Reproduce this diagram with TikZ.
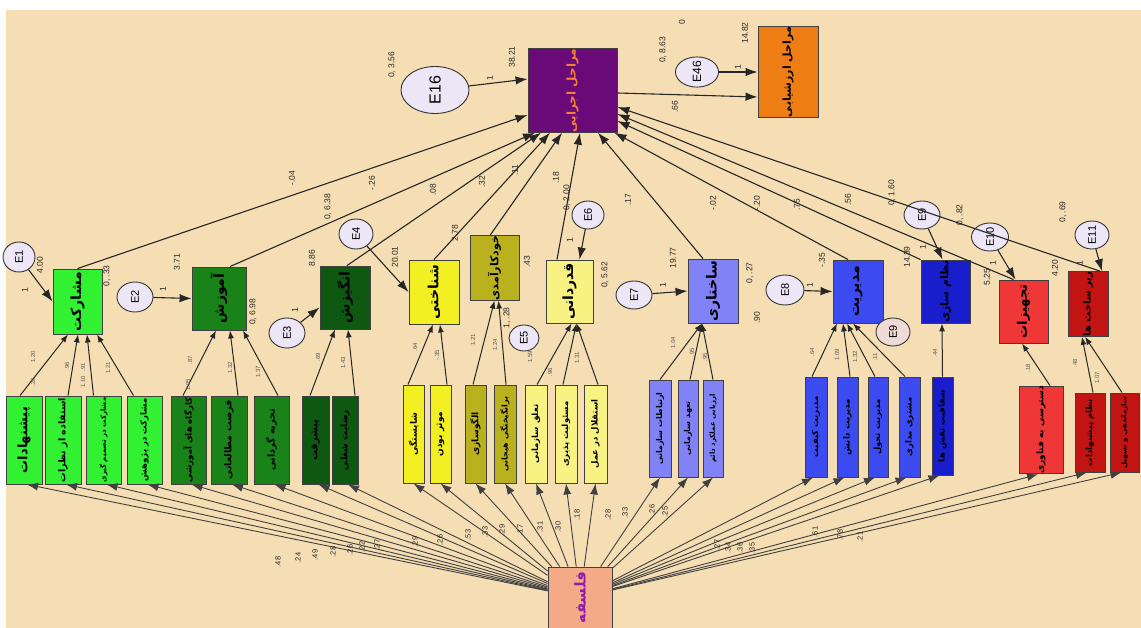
\documentclass[tikz,border=0pt]{standalone}
\usepackage{fontspec}
\usepackage{graphicx}
\setmainfont{Liberation Sans}
\newfontfamily\fa[Script=Arabic]{DejaVu Sans}
\TeXXeTstate=1
\usetikzlibrary{arrows.meta,shapes.geometric}
\definecolor{bgc}{RGB}{245,222,180}
\definecolor{cMain}{RGB}{105,10,120}
\definecolor{cMainT}{RGB}{245,130,50}
\definecolor{cOr}{RGB}{238,125,20}
\definecolor{cEll}{RGB}{236,230,246}
\definecolor{cLG}{RGB}{50,240,50}
\definecolor{cG}{RGB}{25,130,25}
\definecolor{cDG}{RGB}{15,88,18}
\definecolor{cY}{RGB}{242,240,35}
\definecolor{cOl}{RGB}{185,178,30}
\definecolor{cLY}{RGB}{248,242,130}
\definecolor{cPw}{RGB}{128,130,245}
\definecolor{cB}{RGB}{60,75,240}
\definecolor{cDB}{RGB}{25,30,205}
\definecolor{cR}{RGB}{240,55,55}
\definecolor{cDR}{RGB}{195,20,20}
\definecolor{cF}{RGB}{245,170,135}
\definecolor{cFT}{RGB}{140,30,170}
\definecolor{cE9}{RGB}{240,218,215}
\newcommand\FA[2]{\rotatebox{90}{\fa\bfseries\fontsize{#1}{#1}\selectfont #2}}
\newcommand\EN[2]{\rotatebox{90}{\fontsize{#1}{#1}\selectfont #2}}
\begin{document}
\begin{tikzpicture}[x=1pt,y=-1pt,
  bx/.style={draw=black!75, line width=0.9pt, inner sep=0pt, rectangle},
  ell/.style={draw=black!80, line width=0.9pt, ellipse, inner sep=0pt, fill=cEll},
  arr/.style={-{Latex[length=12pt,width=8.5pt]}, line width=1.1pt, draw=black!85},
  sarr/.style={-{Latex[length=8pt,width=6pt]}, line width=1pt, draw=black!85},
  farr/.style={-{Latex[length=11pt,width=8pt]}, line width=0.9pt, draw=black!75},
  lb/.style={rotate=90, inner sep=0pt, font=\fontsize{8.5}{8.5}\selectfont, text=black!85},
  sl/.style={rotate=90, inner sep=0pt, font=\fontsize{6}{6}\selectfont, text=black!65}]
\useasboundingbox (0,0) rectangle (1141,628);
\fill[white] (0,0) rectangle (1141,628);
\fill[bgc] (6,10) rectangle (1141,628);

% top boxes
\node[bx, fill=cMain, minimum width=89, minimum height=71] (M) at (572.5,90.5) {\color{cMainT}\FA{12}{\beginR مراحل اجرایی\endR}};
\node[bx, fill=cOr, minimum width=60, minimum height=70] (O) at (788,72) {\FA{11}{\beginR مراحل ارزشیابی\endR}};
\node[ell, minimum width=68, minimum height=47] (E16) at (435,90) {\EN{16}{E16}};
\node[ell, minimum width=43, minimum height=30] (E46) at (697,72) {\EN{12}{E46}};

% latent boxes
\node[bx, fill=cLG, minimum width=49, minimum height=65] (L1) at (77.5,301.5) {\FA{14}{\beginR مشارکت\endR}};
\node[bx, fill=cG, minimum width=54, minimum height=63] (L2) at (219,298.5) {\FA{14}{\beginR آموزش\endR}};
\node[bx, fill=cDG, minimum width=50, minimum height=63] (L3) at (345,297.5) {\FA{14}{\beginR انگیزش\endR}};
\node[bx, fill=cY, minimum width=50, minimum height=64] (L4) at (434,292) {\FA{14}{\beginR شناختی\endR}};
\node[bx, fill=cOl, minimum width=49, minimum height=64] (L5) at (494.5,268) {\FA{11}{\beginR خودکارآمدی\endR}};
\node[bx, fill=cLY, minimum width=47, minimum height=63] (L6) at (569.5,291.5) {\FA{14}{\beginR قدردانی\endR}};
\node[bx, fill=cPw, minimum width=50, minimum height=64] (L7) at (713,291) {\FA{14}{\beginR ساختاری\endR}};
\node[bx, fill=cB, minimum width=50, minimum height=63] (L8) at (858,291.5) {\FA{14}{\beginR مدیریت\endR}};
\node[bx, fill=cDB, minimum width=49, minimum height=63] (L9) at (945.5,291.5) {\FA{11}{\beginR نظام سازی\endR}};
\node[bx, fill=cR, minimum width=49, minimum height=63] (L10) at (1023.5,311.5) {\FA{13}{\beginR تجهیزات\endR}};
\node[bx, fill=cDR, minimum width=40, minimum height=64] (L11) at (1088,304) {\FA{10}{\beginR زیر ساخت ها\endR}};

% error terms
\node[ell, minimum width=32, minimum height=30] (E1) at (19,257) {\EN{11}{E1}};
\node[ell, minimum width=36, minimum height=30] (E2) at (135,297) {\EN{11}{E2}};
\node[ell, minimum width=36, minimum height=30] (E3) at (287,333) {\EN{11}{E3}};
\node[ell, minimum width=34, minimum height=30] (E4) at (356,234) {\EN{11}{E4}};
\node[ell, minimum width=30, minimum height=26] (E5) at (524,338) {\EN{11}{E5}};
\node[ell, minimum width=32, minimum height=28] (E6) at (588,215) {\EN{11}{E6}};
\node[ell, minimum width=36, minimum height=28] (E7) at (634,295) {\EN{11}{E7}};
\node[ell, minimum width=38, minimum height=30] (E8) at (785,290) {\EN{11}{E8}};
\node[ell, minimum width=36, minimum height=28] (E9) at (922,215) {\EN{11}{E9}};
\node[ell, fill=cE9, minimum width=34, minimum height=28] (E9b) at (893,332) {\EN{11}{E9}};
\node[ell, minimum width=37, minimum height=28] (E10) at (990,237) {\EN{11}{E10}};
\node[ell, minimum width=34, minimum height=28] (E11) at (1092,235) {\EN{11}{E11}};

% indicators
\node[bx, fill=cLG, minimum width=36, minimum height=88] (I1) at (24,440) {\FA{13}{\beginR پیشنهادات\endR}};
\node[bx, fill=cLG, minimum width=36, minimum height=88] (I2) at (63,440) {\FA{9.5}{\beginR استفاده از نظرات\endR}};
\node[bx, fill=cLG, minimum width=35, minimum height=88] (I3) at (103.5,440) {\FA{7}{\beginR مشارکت در تصمیم گیری\endR}};
\node[bx, fill=cLG, minimum width=35, minimum height=88] (I4) at (144.5,440) {\FA{8.5}{\beginR مشارکت در پژوهش\endR}};
\node[bx, fill=cG, minimum width=35, minimum height=88] (I5) at (188.5,440) {\FA{8.5}{\beginR کارگاه های آموزشی\endR}};
\node[bx, fill=cG, minimum width=36, minimum height=88] (I6) at (229,440) {\FA{9.5}{\beginR فرصت مطالعاتی\endR}};
\node[bx, fill=cG, minimum width=35, minimum height=88] (I7) at (271.5,440) {\FA{9.5}{\beginR تجربه گردانی\endR}};
\node[bx, fill=cDG, minimum width=27, minimum height=88] (I8) at (315.5,440) {\FA{10}{\beginR پیشرفت\endR}};
\node[bx, fill=cDG, minimum width=26, minimum height=88] (I9) at (345,440) {\FA{9}{\beginR رضایت شغلی\endR}};
\node[bx, fill=cY, minimum width=21, minimum height=98] (I10) at (413.5,434) {\FA{9}{\beginR شایستگی\endR}};
\node[bx, fill=cY, minimum width=21, minimum height=98] (I11) at (440.5,434) {\FA{9}{\beginR موثر بودن\endR}};
\node[bx, fill=cOl, minimum width=21, minimum height=98] (I12) at (475.5,434) {\FA{9}{\beginR الگوسازی\endR}};
\node[bx, fill=cOl, minimum width=22, minimum height=98] (I13) at (505,434) {\FA{8}{\beginR برانگیختگی هیجانی\endR}};
\node[bx, fill=cLY, minimum width=22, minimum height=98] (I14) at (536,434) {\FA{8.5}{\beginR تعلق سازمانی\endR}};
\node[bx, fill=cLY, minimum width=22, minimum height=98] (I15) at (566,434) {\FA{8.5}{\beginR مسئولیت پذیری\endR}};
\node[bx, fill=cLY, minimum width=23, minimum height=98] (I16) at (595.5,434) {\FA{8.5}{\beginR استقلال در عمل\endR}};
\node[bx, fill=cPw, minimum width=22, minimum height=97] (I17) at (660,428.5) {\FA{8}{\beginR ارتباطات سازمانی\endR}};
\node[bx, fill=cPw, minimum width=20, minimum height=97] (I18) at (688,428.5) {\FA{8}{\beginR تعهد سازمانی\endR}};
\node[bx, fill=cPw, minimum width=20, minimum height=97] (I19) at (713,428.5) {\FA{7}{\beginR ارزیابی عملکرد دائم\endR}};
\node[bx, fill=cB, minimum width=22, minimum height=100] (I20) at (816,427) {\FA{8.5}{\beginR مدیریت کیفیت\endR}};
\node[bx, fill=cB, minimum width=21, minimum height=100] (I21) at (847.5,427) {\FA{8.5}{\beginR مدیریت دانش\endR}};
\node[bx, fill=cB, minimum width=20, minimum height=100] (I22) at (878,427) {\FA{8.5}{\beginR مدیریت تحول\endR}};
\node[bx, fill=cB, minimum width=21, minimum height=100] (I23) at (909.5,427) {\FA{8.5}{\beginR مشتری مداری\endR}};
\node[bx, fill=cDB, minimum width=21, minimum height=98] (I24) at (942.5,426) {\FA{8.5}{\beginR شفافیت نقش ها\endR}};
\node[bx, fill=cR, minimum width=44, minimum height=74] (I25) at (1041,430) {\FA{9}{\beginR دسترسی به فناوری\endR}};
\node[bx, fill=cDR, minimum width=30, minimum height=79] (I26) at (1090,432.5) {\FA{8.5}{\beginR نظام پیشنهادات\endR}};
\node[bx, fill=cDR, minimum width=29, minimum height=79] (I27) at (1124.5,432.5) {\FA{7}{\beginR سازماندهی و تسهیل\endR}};

% philosophy
\node[bx, fill=cF, minimum width=64, minimum height=61] (F) at (580,597.5) {\color{cFT}\FA{15}{\beginR فلسفه\endR}};

% error arrows
\draw[arr] (E16) -- ([yshift=11.5]M.west);
\draw[arr] (E46) -- (O.west);
\draw[arr] ([yshift=-2.5]M.east) -- ([yshift=-25]O.west);
\draw[arr] (E1) -- (L1.west);
\draw[arr] (E2) -- (L2.west);
\draw[arr] (E3) -- ([yshift=-10]L3.west);
\draw[arr] (E4) -- (L4.west);
\draw[arr] (E6) -- ([xshift=10]L6.north);
\draw[arr] (E7) -- (L7.west);
\draw[arr] (E8) -- (L8.west);
\draw[arr] (E9) -- ([xshift=-3]L9.north);
\draw[arr] (E10) -- ([xshift=-8]L10.north);
\draw[arr] (E11) -- ([xshift=14]L11.north);

% latent -> main
\draw[arr] (L1.north) -- ([yshift=-24.5]M.west);
\draw[arr] ([xshift=11]L2.north) -- ([xshift=-37.5]M.south);
\draw[arr] ([xshift=2]L3.north) -- ([xshift=-31.5]M.south);
\draw[arr] (L4.north) -- ([xshift=-22.5]M.south);
\draw[arr] ([xshift=-4.5]L5.north) -- ([xshift=-10.5]M.south);
\draw[arr] ([xshift=-12.5]L6.north) -- ([xshift=7.5]M.south);
\draw[arr] ([xshift=-10]L7.north) -- ([xshift=25.5]M.south);
\draw[arr] ([xshift=-10]L8.north) -- ([xshift=42]M.south);
\draw[arr] (L9.north west) -- ([yshift=-30.5]M.east);
\draw[arr] ([xshift=-10]L10.north) -- ([yshift=-23.5]M.east);
\draw[arr] ([xshift=12]L11.north) -- ([yshift=-16.5]M.east);

% indicators -> latent
\draw[sarr] ([xshift=-4]I1.north) -- ([xshift=-9.5]L1.south);
\draw[sarr] ([xshift=5]I2.north) -- ([xshift=0.5]L1.south);
\draw[sarr] ([xshift=-10]I3.north) -- ([xshift=9.5]L1.south);
\draw[sarr] ([xshift=-11]I4.north) -- ([xshift=19.5]L1.south);
\draw[sarr] ([xshift=-5.5]I5.north) -- ([xshift=-3]L2.south);
\draw[sarr] ([xshift=9]I6.north) -- ([xshift=11]L2.south);
\draw[sarr] ([xshift=6.5]I7.north) -- ([xshift=24]L2.south);
\draw[sarr] ([xshift=-5.5]I8.north) -- ([xshift=-10]L3.south);
\draw[sarr] ([xshift=10]I9.north) -- ([xshift=3]L3.south);
\draw[sarr] ([xshift=-5.5]I10.north) -- ([xshift=-1]L4.south);
\draw[sarr] ([xshift=6.5]I11.north) -- ([xshift=6]L4.south);
\draw[sarr] ([xshift=-2.5]I12.north) -- (L5.south);
\draw[sarr] ([xshift=1]I13.north) -- ([xshift=4]L5.south);
\draw[sarr] ([xshift=1]I14.north) -- ([xshift=2]L6.south);
\draw[sarr] ([xshift=-3]I15.north) -- ([xshift=7]L6.south);
\draw[sarr] ([xshift=2.5]I16.north) -- ([xshift=7]L6.south);
\draw[sarr] (I17.north) -- ([xshift=-11]L7.south);
\draw[sarr] ([xshift=2]I18.north) -- ([xshift=-11]L7.south);
\draw[sarr] (I19.north) -- ([xshift=-11]L7.south);
\draw[sarr] ([xshift=-4]I20.north) -- ([xshift=-21]L8.south);
\draw[sarr] ([xshift=2.5]I21.north) -- ([xshift=-15]L8.south);
\draw[sarr] ([xshift=-3]I22.north) -- ([xshift=-11]L8.south);
\draw[sarr] ([xshift=-4.5]I23.north) -- ([xshift=-5]L8.south);
\draw[sarr] (I24.north) -- ([xshift=-3.5]L9.south);
\draw[sarr] ([xshift=9]I25.north) -- ([xshift=-1.5]L10.south);
\draw[sarr] ([xshift=3]I26.north) -- ([xshift=-6]L11.south);
\draw[sarr] ([xshift=-2.5]I27.north) -- ([xshift=-3]L11.south);

% philosophy -> indicators
\foreach \i in {1,...,9} \draw[farr] (F) -- ([xshift=3]I\i.south);
\foreach \i in {10,...,19} \draw[farr] (F) -- (I\i.south);
\foreach \i in {20,...,27} \draw[farr] (F) -- ([xshift=-3]I\i.south);

% labels (main)
\foreach \x/\y/\t [count=\k] in {292/178/-.04, 328/207/{0, 6.38}, 372/183/-.26, 433/190/.08, 482/182/.32, 515/170/.11, 556/178/.18, 567/198/{0, 2.00}, 628/200/.17, 713/203/-.02, 757/203/-.20, 797/205/.75, 848/200/.56, 892/193/{0, 1.60}, 960/215/{0, .82}, 1063/212/{0, .69}, 392/65/{0, 3.56}, 512/57/38.21, 490/78/1, 663/50/{0, 8.63}, 682/22/0, 745/33/14.82, 738/67/1, 675/107/.66, 25/290/1, 40/265/4.00, 107/276/{0, .33}, 163/289/1, 177/262/3.71, 253/312/{0, 6.98}, 295/310/1, 312/258/8.86, 395/257/20.01, 455/233/2.78, 527/262/.43, 507/318/{1, .28}, 570/240/1, 605/275/{0, 5.62}, 663/285/1, 673/258/19.77, 750/273/{0, .27}, 757/318/.90, 810/285/1, 822/260/-.35, 907/257/14.39, 923/247/1, 987/277/5.25, 993/263/1, 1055/268/4.20, 1080/263/1}
  \node[lb] (la\k) at (\x,\y) {\t};

% labels (indicator weights)
\foreach \x/\y/\t [count=\k] in {33/357/1.20, 33/382/.28, 67/366/.96, 83/367/.91, 83/382/1.10, 108/368/1.21, 190/360/.87, 188/385/1.05, 230/368/1.32, 258/372/1.37, 318/357/.69, 343/363/1.43, 415/347/.64, 437/355/-.35, 473/340/1.21, 495/345/1.24, 530/357/1.59, 550/372/.96, 577/358/1.31, 673/343/1.04, 692/352/.95, 705/357/.95, 812/352/.64, 837/355/1.09, 855/357/1.32, 875/357/.11, 935/353/.44, 1028/368/.18, 1075/363/.48, 1097/378/1.07}
  \node[sl] (lw\k) at (\x,\y) {\t};

% labels (philosophy paths)
\foreach \x/\y/\t [count=\k] in {278/562/.48, 298/558/.24, 315/555/.49, 333/552/.28, 350/550/.26, 362/547/.22, 377/545/.27, 415/542/.29, 440/540/.26, 468/535/.53, 485/532/.33, 502/530/.29, 520/530/.17, 540/527/.31, 558/527/.30, 577/515/.18, 608/515/.28, 625/513/.33, 652/510/.26, 665/512/.25, 717/545/.27, 728/548/.34, 740/548/.36, 752/548/.35, 815/532/.61, 840/535/.78, 860/537/.21}
  \node[lb, font=\fontsize{7.5}{7.5}\selectfont] (lp\k) at (\x,\y) {\t};
\end{tikzpicture}
\end{document}
